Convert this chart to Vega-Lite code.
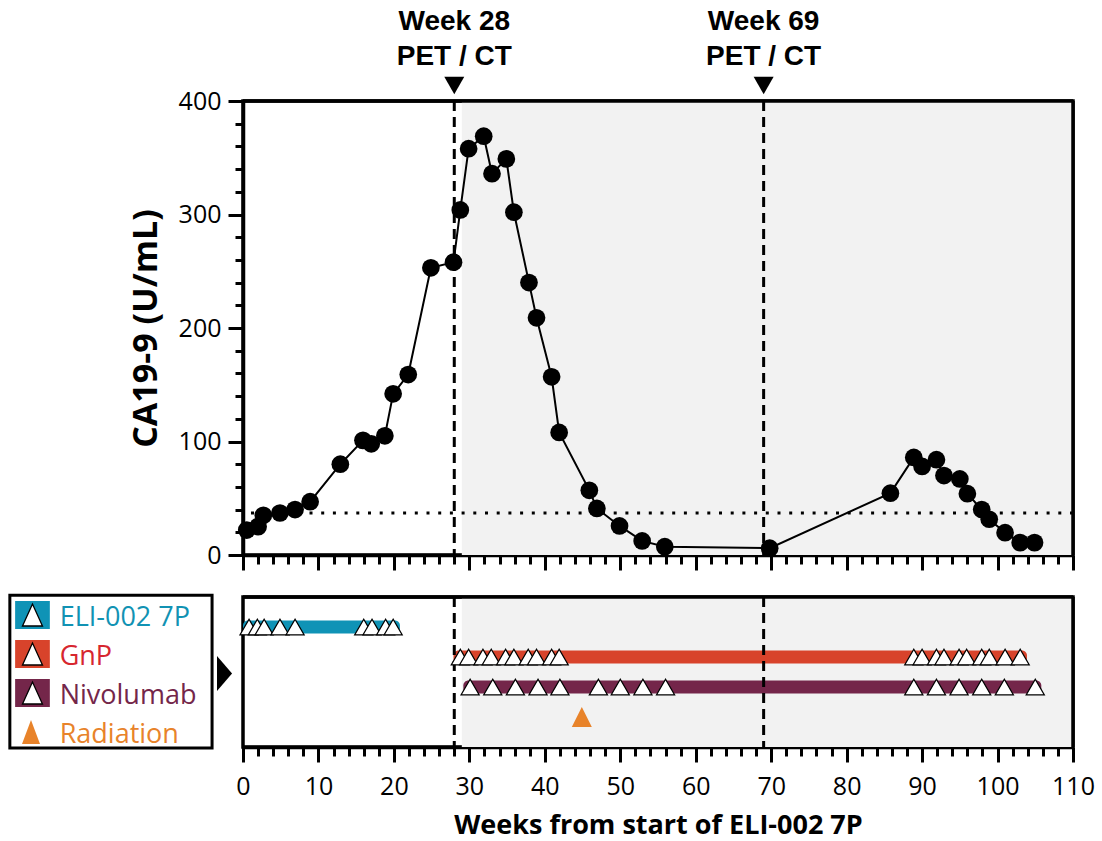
{
  "$schema": "https://vega.github.io/schema/vega-lite/v6.json",
  "background": "white",
  "padding": {"left": 6, "top": 6, "right": 8, "bottom": 5},
  "config": {
    "view": {"stroke": "black", "strokeWidth": 3.5},
    "axis": {
      "domainColor": "black", "domainWidth": 3.5, "tickColor": "black", "tickWidth": 3,
      "labelFont": "Open Sans", "labelFontSize": 25, "labelColor": "black",
      "titleFont": "Open Sans", "titleFontWeight": "bold", "titleFontSize": 27, "titleColor": "black",
      "grid": false, "zindex": 1, "tickCount": 500, "labelOverlap": false, "format": "d"
    }
  },
  "datasets": {
    "ca199": [
      {"week": 0.5, "value": 22}, {"week": 2, "value": 25}, {"week": 2.7, "value": 35}, {"week": 4.9, "value": 37},
      {"week": 6.9, "value": 40}, {"week": 8.9, "value": 47}, {"week": 12.9, "value": 80}, {"week": 15.9, "value": 101},
      {"week": 17, "value": 98}, {"week": 18.8, "value": 105}, {"week": 19.9, "value": 142}, {"week": 21.9, "value": 159},
      {"week": 24.9, "value": 253}, {"week": 27.9, "value": 258}, {"week": 28.8, "value": 304}, {"week": 29.9, "value": 358},
      {"week": 31.9, "value": 369}, {"week": 33, "value": 336}, {"week": 34.9, "value": 349}, {"week": 35.9, "value": 302},
      {"week": 37.9, "value": 240}, {"week": 38.9, "value": 209}, {"week": 40.9, "value": 157}, {"week": 41.9, "value": 108},
      {"week": 45.9, "value": 57}, {"week": 46.9, "value": 41}, {"week": 49.9, "value": 25.6}, {"week": 52.9, "value": 12.4},
      {"week": 55.9, "value": 7.3}, {"week": 69.8, "value": 6}, {"week": 85.8, "value": 54.5}, {"week": 88.9, "value": 86},
      {"week": 90, "value": 78}, {"week": 91.9, "value": 84}, {"week": 92.9, "value": 70}, {"week": 95, "value": 67},
      {"week": 96, "value": 54}, {"week": 97.9, "value": 40}, {"week": 98.9, "value": 31.5}, {"week": 101, "value": 19.7},
      {"week": 103, "value": 10.9}, {"week": 104.9, "value": 10.9}
    ],
    "events": [
      {"week": 28, "label": "Week 28\nPET / CT"},
      {"week": 69, "label": "Week 69\nPET / CT"}
    ],
    "bars": [
      {"drug": "ELI-002 7P", "order": 1, "start": 0, "end": 20.8},
      {"drug": "GnP", "order": 2, "start": 27.9, "end": 103.9},
      {"drug": "Nivolumab", "order": 3, "start": 29.2, "end": 105.8}
    ],
    "doses": [
      {"drug": "ELI-002 7P", "order": 1, "week": 0.8}, {"drug": "ELI-002 7P", "order": 1, "week": 1.9},
      {"drug": "ELI-002 7P", "order": 1, "week": 2.8}, {"drug": "ELI-002 7P", "order": 1, "week": 4.9},
      {"drug": "ELI-002 7P", "order": 1, "week": 6.9}, {"drug": "ELI-002 7P", "order": 1, "week": 16.0},
      {"drug": "ELI-002 7P", "order": 1, "week": 17.1}, {"drug": "ELI-002 7P", "order": 1, "week": 18.9},
      {"drug": "ELI-002 7P", "order": 1, "week": 19.9},
      {"drug": "GnP", "order": 2, "week": 28.8}, {"drug": "GnP", "order": 2, "week": 29.9},
      {"drug": "GnP", "order": 2, "week": 31.8}, {"drug": "GnP", "order": 2, "week": 32.9},
      {"drug": "GnP", "order": 2, "week": 34.8}, {"drug": "GnP", "order": 2, "week": 35.9},
      {"drug": "GnP", "order": 2, "week": 37.8}, {"drug": "GnP", "order": 2, "week": 38.9},
      {"drug": "GnP", "order": 2, "week": 40.9}, {"drug": "GnP", "order": 2, "week": 41.9},
      {"drug": "GnP", "order": 2, "week": 88.9}, {"drug": "GnP", "order": 2, "week": 90.0},
      {"drug": "GnP", "order": 2, "week": 91.9}, {"drug": "GnP", "order": 2, "week": 92.9},
      {"drug": "GnP", "order": 2, "week": 94.9}, {"drug": "GnP", "order": 2, "week": 95.9},
      {"drug": "GnP", "order": 2, "week": 97.9}, {"drug": "GnP", "order": 2, "week": 98.9},
      {"drug": "GnP", "order": 2, "week": 101.0}, {"drug": "GnP", "order": 2, "week": 103.0},
      {"drug": "Nivolumab", "order": 3, "week": 30.1}, {"drug": "Nivolumab", "order": 3, "week": 33.1},
      {"drug": "Nivolumab", "order": 3, "week": 36.1}, {"drug": "Nivolumab", "order": 3, "week": 39.1},
      {"drug": "Nivolumab", "order": 3, "week": 42.0}, {"drug": "Nivolumab", "order": 3, "week": 47.1},
      {"drug": "Nivolumab", "order": 3, "week": 50.0}, {"drug": "Nivolumab", "order": 3, "week": 53.0},
      {"drug": "Nivolumab", "order": 3, "week": 56.0}, {"drug": "Nivolumab", "order": 3, "week": 88.9},
      {"drug": "Nivolumab", "order": 3, "week": 91.9}, {"drug": "Nivolumab", "order": 3, "week": 94.9},
      {"drug": "Nivolumab", "order": 3, "week": 97.9}, {"drug": "Nivolumab", "order": 3, "week": 100.9},
      {"drug": "Nivolumab", "order": 3, "week": 105.0}
    ],
    "radiation": [{"drug": "Radiation", "order": 4, "week": 44.9}],
    "drugs": [
      {"drug": "ELI-002 7P", "order": 1},
      {"drug": "GnP", "order": 2},
      {"drug": "Nivolumab", "order": 3},
      {"drug": "Radiation", "order": 4}
    ],
    "one": [{}]
  },
  "spacing": 17,
  "vconcat": [
    {
      "width": 830,
      "height": 454,
      "layer": [
        {
          "data": {"name": "one"},
          "mark": {"type": "rect", "fill": "#f2f2f2"},
          "encoding": {
            "x": {"datum": 29, "type": "quantitative", "scale": {"domain": [0, 110], "nice": false, "zero": false}},
            "x2": {"datum": 110},
            "y": {"datum": 0, "type": "quantitative", "scale": {"domain": [0, 400], "nice": false}},
            "y2": {"datum": 400}
          }
        },
        {
          "data": {"name": "one"},
          "mark": {"type": "rule", "color": "black", "strokeWidth": 3, "strokeDash": [3, 8.7]},
          "encoding": {
            "y": {"datum": 37, "type": "quantitative", "scale": {"domain": [0, 400], "nice": false}}
          }
        },
        {
          "data": {"name": "events"},
          "mark": {"type": "rule", "color": "black", "strokeWidth": 3, "strokeDash": [10, 6]},
          "encoding": {
            "x": {"field": "week", "type": "quantitative", "scale": {"domain": [0, 110], "nice": false, "zero": false}}
          }
        },
        {
          "data": {"name": "ca199"},
          "mark": {"type": "line", "color": "black", "strokeWidth": 2},
          "encoding": {
            "x": {
              "field": "week", "type": "quantitative",
              "scale": {"domain": [0, 110], "nice": false, "zero": false},
              "axis": {
                "values": [0,2,4,6,8,10,12,14,16,18,20,22,24,26,28,30,32,34,36,38,40,42,44,46,48,50,52,54,56,58,60,62,64,66,68,70,72,74,76,78,80,82,84,86,88,90,92,94,96,98,100,102,104,106,108,110],
                "labels": false, "title": null, "tickCount": 500,
                "tickSize": {"condition": {"test": "datum.value % 10 === 0", "value": 15}, "value": 9}
              }
            },
            "y": {
              "field": "value", "type": "quantitative",
              "scale": {"domain": [0, 400], "nice": false},
              "axis": {
                "values": [0,20,40,60,80,100,120,140,160,180,200,220,240,260,280,300,320,340,360,380,400],
                "tickCount": 500, "format": "d",
                "labelExpr": "datum.value % 100 === 0 ? datum.label : ''",
                "tickSize": {"condition": {"test": "datum.value % 100 === 0", "value": 15}, "value": 8},
                "labelPadding": 7,
                "title": "CA19-9 (U/mL)", "titlePadding": 15, "titleFontSize": 34
              }
            }
          }
        },
        {
          "data": {"name": "ca199"},
          "mark": {"type": "point", "shape": "circle", "filled": true, "color": "black", "opacity": 1, "size": 314},
          "encoding": {
            "x": {"field": "week", "type": "quantitative", "scale": {"domain": [0, 110], "nice": false, "zero": false}},
            "y": {"field": "value", "type": "quantitative", "scale": {"domain": [0, 400], "nice": false}}
          }
        },
        {
          "data": {"name": "one"},
          "mark": {"type": "rule", "color": "black", "strokeWidth": 3.5},
          "encoding": {"y": {"datum": 400, "type": "quantitative", "scale": {"domain": [0, 400], "nice": false}}}
        },
        {
          "data": {"name": "one"},
          "mark": {"type": "rule", "color": "black", "strokeWidth": 3.5},
          "encoding": {"x": {"datum": 110, "type": "quantitative", "scale": {"domain": [0, 110], "nice": false, "zero": false}}}
        },
        {
          "data": {"name": "events"},
          "mark": {"type": "point", "shape": "triangle-down", "filled": true, "color": "black", "opacity": 1, "size": 400, "yOffset": -15.5},
          "encoding": {
            "x": {"field": "week", "type": "quantitative", "scale": {"domain": [0, 110], "nice": false, "zero": false}},
            "y": {"datum": 400, "type": "quantitative", "scale": {"domain": [0, 400], "nice": false}}
          }
        },
        {
          "data": {"name": "events"},
          "mark": {"type": "text", "font": "Liberation Sans", "fontWeight": "bold", "fontSize": 28, "color": "black", "lineBreak": "\n", "lineHeight": 35, "baseline": "alphabetic", "align": "center", "dy": -71},
          "encoding": {
            "x": {"field": "week", "type": "quantitative", "scale": {"domain": [0, 110], "nice": false, "zero": false}},
            "y": {"datum": 400, "type": "quantitative", "scale": {"domain": [0, 400], "nice": false}},
            "text": {"field": "label"}
          }
        }
      ]
    },
    {
      "width": 830,
      "height": 150,
      "resolve": {"scale": {"y": "independent"}, "axis": {"y": "independent"}},
      "layer": [
        {
          "layer": [
            {
              "data": {"name": "one"},
              "mark": {"type": "rect", "fill": "#f2f2f2"},
              "encoding": {
                "x": {"datum": 29, "type": "quantitative", "scale": {"domain": [0, 110], "nice": false, "zero": false, "padding": 0}},
                "x2": {"datum": 110},
                "y": {"datum": 0, "type": "quantitative", "scale": {"domain": [0, 5], "nice": false, "reverse": true, "padding": 0}, "axis": null},
                "y2": {"datum": 5}
              }
            },
            {
              "data": {"name": "bars"},
              "mark": {"type": "bar", "size": 13, "cornerRadius": 5},
              "encoding": {
                "x": {"field": "start", "type": "quantitative", "scale": {"domain": [0, 110], "nice": false, "zero": false, "padding": 0}},
                "x2": {"field": "end"},
                "y": {"field": "order", "type": "quantitative", "scale": {"domain": [0, 5], "nice": false, "reverse": true, "padding": 0}, "axis": null},
                "color": {"field": "drug", "type": "nominal", "scale": {"domain": ["ELI-002 7P", "GnP", "Nivolumab", "Radiation"], "range": ["#0f93b6", "#d8432b", "#74264a", "#e8832a"]}, "legend": null}
              }
            },
            {
              "data": {"name": "events"},
              "mark": {"type": "rule", "color": "black", "strokeWidth": 3, "strokeDash": [10, 6]},
              "encoding": {
                "x": {"field": "week", "type": "quantitative", "scale": {"domain": [0, 110], "nice": false, "zero": false, "padding": 0}}
              }
            },
            {
              "data": {"name": "doses"},
              "mark": {"type": "point", "shape": "triangle-up", "filled": true, "fill": "white", "stroke": "black", "strokeWidth": 1.3, "opacity": 1, "size": 324},
              "encoding": {
                "x": {
                  "field": "week", "type": "quantitative",
                  "scale": {"domain": [0, 110], "nice": false, "zero": false, "padding": 0},
                  "axis": {
                    "values": [0,2,4,6,8,10,12,14,16,18,20,22,24,26,28,30,32,34,36,38,40,42,44,46,48,50,52,54,56,58,60,62,64,66,68,70,72,74,76,78,80,82,84,86,88,90,92,94,96,98,100,102,104,106,108,110],
                    "tickCount": 500, "format": "d",
                    "labelExpr": "datum.value % 10 === 0 ? datum.label : ''",
                    "tickSize": {"condition": {"test": "datum.value % 10 === 0", "value": 15}, "value": 9},
                    "labelPadding": 12,
                    "labelFlush": false,
                    "labelOverlap": false,
                    "title": "Weeks from start of ELI-002 7P", "titlePadding": 13
                  }
                },
                "y": {"field": "order", "type": "quantitative", "scale": {"domain": [0, 5], "nice": false, "reverse": true, "padding": 0}, "axis": null}
              }
            },
            {
              "data": {"name": "radiation"},
              "mark": {"type": "point", "shape": "M-1,1L0,-1L1,1Z", "filled": true, "color": "#e8832a", "opacity": 1, "size": 400},
              "encoding": {
                "x": {"field": "week", "type": "quantitative", "scale": {"domain": [0, 110], "nice": false, "zero": false, "padding": 0}},
                "y": {"field": "order", "type": "quantitative", "scale": {"domain": [0, 5], "nice": false, "reverse": true, "padding": 0}, "axis": null}
              }
            },
            {
              "data": {"name": "one"},
              "mark": {"type": "rule", "color": "black", "strokeWidth": 3.5},
              "encoding": {"y": {"datum": 0, "type": "quantitative", "scale": {"domain": [0, 5], "nice": false, "reverse": true, "padding": 0}, "axis": null}}
            },
            {
              "data": {"name": "one"},
              "mark": {"type": "rule", "color": "black", "strokeWidth": 3.5},
              "encoding": {"x": {"datum": 110, "type": "quantitative", "scale": {"domain": [0, 110], "nice": false, "zero": false, "padding": 0}}}
            }
          ]
        },
        {
          "layer": [
            {
              "data": {"name": "one"},
              "mark": {"type": "rect", "fill": "white", "stroke": "black", "strokeWidth": 3},
              "encoding": {
                "x": {"datum": -30.9, "type": "quantitative", "scale": {"domain": [0, 110], "nice": false, "zero": false, "padding": 0}},
                "x2": {"datum": -4.1},
                "y": {"datum": 0.49, "type": "quantitative", "scale": {"domain": [0.538, 4.385], "nice": false, "zero": false, "reverse": true, "padding": 0}, "axis": null},
                "y2": {"datum": 4.41}
              }
            },
            {
              "data": {"name": "drugs"},
              "transform": [{"filter": "datum.order < 4"}],
              "mark": {"type": "bar", "size": 28},
              "encoding": {
                "x": {"datum": -30.2, "type": "quantitative", "scale": {"domain": [0, 110], "nice": false, "zero": false, "padding": 0}},
                "x2": {"datum": -25.6},
                "y": {"field": "order", "type": "quantitative", "scale": {"domain": [0.538, 4.385], "nice": false, "zero": false, "reverse": true, "padding": 0}, "axis": null},
                "color": {"field": "drug", "type": "nominal", "scale": {"domain": ["ELI-002 7P", "GnP", "Nivolumab", "Radiation"], "range": ["#0f93b6", "#d8432b", "#74264a", "#e8832a"]}, "legend": null}
              }
            },
            {
              "data": {"name": "drugs"},
              "transform": [{"filter": "datum.order < 4"}],
              "mark": {"type": "point", "shape": "M-1,1.1L0,-1.1L1,1.1Z", "filled": true, "fill": "white", "stroke": "black", "strokeWidth": 1.3, "opacity": 1, "size": 400},
              "encoding": {
                "x": {"datum": -27.9, "type": "quantitative", "scale": {"domain": [0, 110], "nice": false, "zero": false, "padding": 0}},
                "y": {"field": "order", "type": "quantitative", "scale": {"domain": [0.538, 4.385], "nice": false, "zero": false, "reverse": true, "padding": 0}, "axis": null}
              }
            },
            {
              "data": {"name": "drugs"},
              "transform": [{"filter": "datum.order == 4"}],
              "mark": {"type": "point", "shape": "M-1,1.33L0,-1.33L1,1.33Z", "filled": true, "color": "#e8832a", "opacity": 1, "size": 324},
              "encoding": {
                "x": {"datum": -28.1, "type": "quantitative", "scale": {"domain": [0, 110], "nice": false, "zero": false, "padding": 0}},
                "y": {"field": "order", "type": "quantitative", "scale": {"domain": [0.538, 4.385], "nice": false, "zero": false, "reverse": true, "padding": 0}, "axis": null}
              }
            },
            {
              "data": {"name": "drugs"},
              "mark": {"type": "text", "font": "Open Sans", "fontSize": 27, "align": "left", "baseline": "alphabetic", "dy": 11},
              "encoding": {
                "x": {"datum": -24.3, "type": "quantitative", "scale": {"domain": [0, 110], "nice": false, "zero": false, "padding": 0}},
                "y": {"field": "order", "type": "quantitative", "scale": {"domain": [0.538, 4.385], "nice": false, "zero": false, "reverse": true, "padding": 0}, "axis": null},
                "text": {"field": "drug"},
                "fill": {"field": "drug", "type": "nominal", "scale": {"domain": ["ELI-002 7P", "GnP", "Nivolumab", "Radiation"], "range": ["#1192b3", "#d7262f", "#74264a", "#e8832a"]}, "legend": null}
              }
            },
            {
              "data": {"name": "one"},
              "mark": {"type": "point", "shape": "M-0.43,-1L0.43,0L-0.43,1Z", "filled": true, "color": "black", "opacity": 1, "size": 1225},
              "encoding": {
                "x": {"datum": -2.45, "type": "quantitative", "scale": {"domain": [0, 110], "nice": false, "zero": false, "padding": 0}},
                "y": {"datum": 2.5, "type": "quantitative", "scale": {"domain": [0.538, 4.385], "nice": false, "zero": false, "reverse": true, "padding": 0}, "axis": null}
              }
            }
          ]
        }
      ]
    }
  ]
}
